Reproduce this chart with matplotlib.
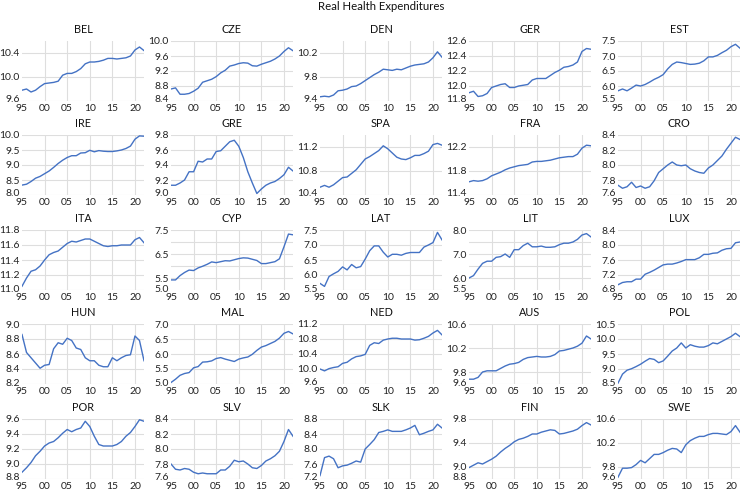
import matplotlib.pyplot as plt
import matplotlib.transforms as mtransforms
import numpy as np

plt.rcParams['font.family'] = ['Lato', 'DejaVu Sans']

years = np.arange(1995, 2023)
xtick_years = [1995, 2000, 2005, 2010, 2015, 2020]
xtick_labels = ['95', '00', '05', '10', '15', '20']

BEL = [9.78, 9.80, 9.75, 9.78, 9.84, 9.89, 9.90, 9.91, 9.93, 10.03, 10.06, 10.06, 10.09, 10.14,
       10.22, 10.25, 10.25, 10.26, 10.28, 10.31, 10.31, 10.30, 10.31, 10.32, 10.35, 10.45, 10.50, 10.44]
CZE = [8.72, 8.75, 8.58, 8.58, 8.60, 8.66, 8.74, 8.90, 8.94, 8.98, 9.05, 9.15, 9.22, 9.33,
       9.36, 9.40, 9.42, 9.41, 9.34, 9.33, 9.38, 9.42, 9.46, 9.52, 9.60, 9.72, 9.82, 9.74]
DEN = [9.47, 9.48, 9.47, 9.50, 9.57, 9.58, 9.60, 9.64, 9.65, 9.69, 9.74, 9.79, 9.84, 9.88,
       9.93, 9.92, 9.91, 9.93, 9.92, 9.95, 9.98, 10.00, 10.01, 10.02, 10.05, 10.12, 10.22, 10.13]
GER = [11.91, 11.93, 11.86, 11.87, 11.90, 11.98, 12.00, 12.02, 12.03, 11.98, 11.98, 12.00, 12.01, 12.02,
       12.08, 12.10, 12.10, 12.10, 12.14, 12.18, 12.21, 12.25, 12.26, 12.28, 12.32, 12.46, 12.50, 12.49]
EST = [5.84, 5.90, 5.84, 5.93, 6.03, 6.00, 6.05, 6.13, 6.22, 6.29, 6.38, 6.57, 6.72, 6.80,
       6.78, 6.75, 6.72, 6.73, 6.76, 6.84, 6.97, 6.97, 7.02, 7.11, 7.19, 7.31, 7.39, 7.26]
IRE = [8.33, 8.36, 8.45, 8.56, 8.62, 8.71, 8.80, 8.92, 9.05, 9.16, 9.25, 9.31, 9.31, 9.40,
       9.41, 9.49, 9.44, 9.48, 9.46, 9.45, 9.45, 9.47, 9.50, 9.55, 9.63, 9.86, 9.97, 9.96]
GRE = [9.13, 9.13, 9.16, 9.20, 9.31, 9.31, 9.45, 9.44, 9.48, 9.48, 9.58, 9.59, 9.65, 9.71,
       9.73, 9.65, 9.50, 9.31, 9.16, 9.02, 9.08, 9.13, 9.16, 9.18, 9.22, 9.27, 9.37, 9.32]
SPA = [10.53, 10.56, 10.53, 10.57, 10.63, 10.69, 10.70, 10.76, 10.82, 10.91, 11.00, 11.04, 11.09, 11.14,
       11.22, 11.17, 11.10, 11.03, 11.00, 10.99, 11.02, 11.06, 11.06, 11.09, 11.13, 11.24, 11.26, 11.23]
FRA = [11.62, 11.64, 11.63, 11.64, 11.67, 11.72, 11.75, 11.78, 11.82, 11.85, 11.87, 11.89, 11.90, 11.91,
       11.95, 11.96, 11.96, 11.97, 11.98, 12.00, 12.02, 12.03, 12.04, 12.04, 12.08, 12.18, 12.23, 12.22]
CRO = [7.73, 7.69, 7.71, 7.77, 7.70, 7.72, 7.69, 7.71, 7.79, 7.90, 7.95, 8.00, 8.04, 8.00,
       7.99, 8.00, 7.95, 7.92, 7.90, 7.89, 7.96, 8.00, 8.06, 8.12, 8.21, 8.29, 8.37, 8.34]
ITA = [11.05, 11.16, 11.25, 11.27, 11.32, 11.40, 11.47, 11.50, 11.52, 11.57, 11.62, 11.65, 11.64, 11.66,
       11.68, 11.68, 11.65, 11.62, 11.59, 11.58, 11.59, 11.59, 11.60, 11.60, 11.60, 11.67, 11.70, 11.63]
CYP = [5.42, 5.42, 5.60, 5.73, 5.83, 5.81, 5.92, 5.99, 6.07, 6.17, 6.14, 6.18, 6.22, 6.21,
       6.26, 6.31, 6.34, 6.33, 6.28, 6.23, 6.10, 6.10, 6.14, 6.18, 6.30, 6.80, 7.33, 7.30]
LAT = [5.72, 5.62, 5.95, 6.04, 6.12, 6.27, 6.17, 6.35, 6.24, 6.28, 6.53, 6.81, 6.97, 6.97,
       6.76, 6.60, 6.69, 6.69, 6.66, 6.72, 6.75, 6.75, 6.75, 6.93, 7.00, 7.08, 7.42, 7.17]
LIT = [6.00, 6.10, 6.37, 6.61, 6.70, 6.70, 6.86, 6.89, 7.00, 6.86, 7.18, 7.18, 7.35, 7.45,
       7.30, 7.30, 7.33, 7.28, 7.28, 7.30, 7.39, 7.45, 7.45, 7.50, 7.61, 7.79, 7.85, 7.71]
LUX = [6.94, 7.00, 7.02, 7.02, 7.09, 7.09, 7.22, 7.27, 7.33, 7.40, 7.47, 7.49, 7.49, 7.52,
       7.56, 7.61, 7.61, 7.61, 7.66, 7.75, 7.75, 7.78, 7.79, 7.86, 7.90, 7.91, 8.06, 8.08]
HUN = [8.86, 8.62, 8.55, 8.48, 8.41, 8.45, 8.46, 8.67, 8.75, 8.73, 8.81, 8.78, 8.68, 8.66,
       8.55, 8.51, 8.51, 8.45, 8.43, 8.43, 8.55, 8.51, 8.55, 8.58, 8.59, 8.84, 8.78, 8.51]
MAL = [5.05, 5.16, 5.29, 5.35, 5.38, 5.54, 5.58, 5.73, 5.74, 5.77, 5.85, 5.88, 5.83, 5.79,
       5.75, 5.83, 5.87, 5.90, 5.99, 6.12, 6.23, 6.28, 6.35, 6.42, 6.53, 6.69, 6.75, 6.67]
NED = [10.00, 9.95, 10.01, 10.04, 10.06, 10.15, 10.18, 10.27, 10.33, 10.35, 10.39, 10.63, 10.70, 10.68,
       10.77, 10.80, 10.82, 10.82, 10.80, 10.80, 10.80, 10.77, 10.78, 10.82, 10.87, 10.96, 11.03, 10.91]
AUS = [9.68, 9.68, 9.71, 9.80, 9.82, 9.82, 9.82, 9.86, 9.90, 9.93, 9.94, 9.96, 10.01, 10.04,
       10.05, 10.06, 10.05, 10.05, 10.06, 10.09, 10.15, 10.16, 10.18, 10.20, 10.23, 10.28, 10.40, 10.35]
POL = [8.53, 8.83, 8.96, 9.01, 9.08, 9.16, 9.26, 9.35, 9.32, 9.21, 9.27, 9.43, 9.60, 9.70,
       9.87, 9.70, 9.81, 9.76, 9.73, 9.73, 9.78, 9.87, 9.84, 9.92, 10.00, 10.08, 10.19, 10.08]
POR = [8.89, 8.95, 9.02, 9.11, 9.17, 9.24, 9.28, 9.30, 9.35, 9.41, 9.46, 9.43, 9.46, 9.48,
       9.57, 9.50, 9.37, 9.26, 9.24, 9.24, 9.24, 9.26, 9.30, 9.37, 9.42, 9.50, 9.59, 9.57]
SLV = [7.80, 7.73, 7.72, 7.74, 7.73, 7.69, 7.67, 7.68, 7.67, 7.67, 7.67, 7.72, 7.72, 7.77,
       7.85, 7.83, 7.84, 7.80, 7.75, 7.74, 7.78, 7.84, 7.87, 7.91, 7.97, 8.10, 8.26, 8.17]
SLK = [7.29, 7.77, 7.81, 7.74, 7.50, 7.55, 7.57, 7.62, 7.68, 7.65, 8.00, 8.12, 8.25, 8.44,
       8.47, 8.51, 8.47, 8.47, 8.47, 8.51, 8.56, 8.63, 8.38, 8.42, 8.47, 8.51, 8.66, 8.56]
FIN = [8.99, 9.03, 9.07, 9.05, 9.09, 9.13, 9.18, 9.25, 9.31, 9.36, 9.42, 9.46, 9.48, 9.51,
       9.55, 9.55, 9.58, 9.60, 9.62, 9.61, 9.55, 9.56, 9.58, 9.60, 9.63, 9.69, 9.74, 9.70]
SWE = [9.63, 9.78, 9.78, 9.79, 9.84, 9.91, 9.87, 9.94, 10.01, 10.01, 10.04, 10.08, 10.11, 10.10,
       10.04, 10.17, 10.24, 10.28, 10.31, 10.31, 10.34, 10.36, 10.36, 10.35, 10.34, 10.39, 10.49, 10.38]

# panel name, series, y limits, labelled y ticks, gridline positions
panels = [
    ('BEL', BEL, (9.6, 10.6), [9.6, 10.0, 10.4], None),
    ('CZE', CZE, (8.4, 10.0), [8.4, 8.8, 9.2, 9.6, 10.0], None),
    ('DEN', DEN, (9.4, 10.4), [9.4, 9.8, 10.2], None),
    ('GER', GER, (11.8, 12.6), [11.8, 12.0, 12.2, 12.4, 12.6], None),
    ('EST', EST, (5.5, 7.5), [5.5, 6.0, 6.5, 7.0, 7.5], None),
    ('IRE', IRE, (8.0, 10.0), [8.0, 8.5, 9.0, 9.5, 10.0], None),
    ('GRE', GRE, (9.0, 9.8), [9.0, 9.2, 9.4, 9.6, 9.8], None),
    ('SPA', SPA, (10.4, 11.4), [10.4, 10.8, 11.2], None),
    ('FRA', FRA, (11.4, 12.4), [11.4, 11.8, 12.2], None),
    ('CRO', CRO, (7.6, 8.4), [7.6, 7.8, 8.0, 8.2, 8.4], None),
    ('ITA', ITA, (11.0, 11.8), [11.0, 11.2, 11.4, 11.6, 11.8], None),
    ('CYP', CYP, (5.0, 7.5), [5.0, 5.5, 6.5, 7.5], [5.5, 6.0, 6.5, 7.0, 7.5]),
    ('LAT', LAT, (5.5, 7.5), [5.5, 6.0, 6.5, 7.0, 7.5], None),
    ('LIT', LIT, (5.5, 8.0), [5.5, 6.0, 7.0, 8.0], [6.0, 6.5, 7.0, 7.5, 8.0]),
    ('LUX', LUX, (6.8, 8.4), [6.8, 7.2, 7.6, 8.0, 8.4], None),
    ('HUN', HUN, (8.2, 9.0), [8.2, 8.4, 8.6, 8.8, 9.0], None),
    ('MAL', MAL, (5.0, 7.0), [5.0, 5.5, 6.0, 6.5, 7.0], None),
    ('NED', NED, (9.6, 11.2), [9.6, 10.0, 10.4, 10.8, 11.2], None),
    ('AUS', AUS, (9.6, 10.6), [9.6, 9.8, 10.2, 10.6], None),
    ('POL', POL, (8.5, 10.5), [8.5, 9.0, 9.5, 10.0, 10.5], None),
    ('POR', POR, (8.8, 9.6), [8.8, 9.0, 9.2, 9.4, 9.6], None),
    ('SLV', SLV, (7.6, 8.4), [7.6, 7.8, 8.0, 8.2, 8.4], None),
    ('SLK', SLK, (7.2, 8.8), [7.2, 7.6, 8.0, 8.4, 8.8], None),
    ('FIN', FIN, (8.8, 9.8), [8.8, 9.0, 9.4, 9.8], None),
    ('SWE', SWE, (9.6, 10.6), [9.6, 9.8, 10.2, 10.6], None),
]

W, H = 742, 492
fig = plt.figure(figsize=(W / 100, H / 100), dpi=100)

col_left = [22, 171, 320, 469, 618]
row_top = [41, 135, 230, 324, 419]
pw, ph = 122, 60

for k, (name, vals, ylim, yt, grid) in enumerate(panels):
    r, c = divmod(k, 5)
    ax = fig.add_axes([col_left[c] / W, 1 - (row_top[r] + ph) / H, pw / W, ph / H])
    if grid is None:
        grid = yt
    for g in grid:
        ax.axhline(g, color='#dedede', lw=0.8, zorder=0)
    for xv in xtick_years[1:]:
        ax.axvline(xv, color='#dedede', lw=0.8, zorder=0)
    ax.plot(years, vals, color='#4472c4', lw=1.0)
    ax.set_xlim(1995, 2022)
    ax.set_ylim(*ylim)
    ax.set_xticks(xtick_years)
    ax.set_xticklabels(xtick_labels)
    ax.set_yticks(yt)
    ax.set_yticklabels(['%.1f' % v for v in yt])
    ax.tick_params(axis='y', length=0, labelsize=7.5, colors='#222222', pad=1.5)
    ax.tick_params(axis='x', length=0, labelsize=7.5, colors='#222222', pad=2.5)
    # lift the lowest y label a little so it sits just above the x labels
    lowest = ax.get_yticklabels()[0]
    lowest.set_transform(lowest.get_transform() + mtransforms.ScaledTranslation(0, 2 / 100, fig.dpi_scale_trans))
    for s in ax.spines.values():
        s.set_visible(False)
    ax.set_title(name, fontsize=7.8, pad=6, color='#111111')

fig.text(381 / W, 1 - 7 / H, 'Real Health Expenditures', ha='center', va='center', fontsize=8.2, color='#111111')

fig.savefig('out.png', dpi=100)
